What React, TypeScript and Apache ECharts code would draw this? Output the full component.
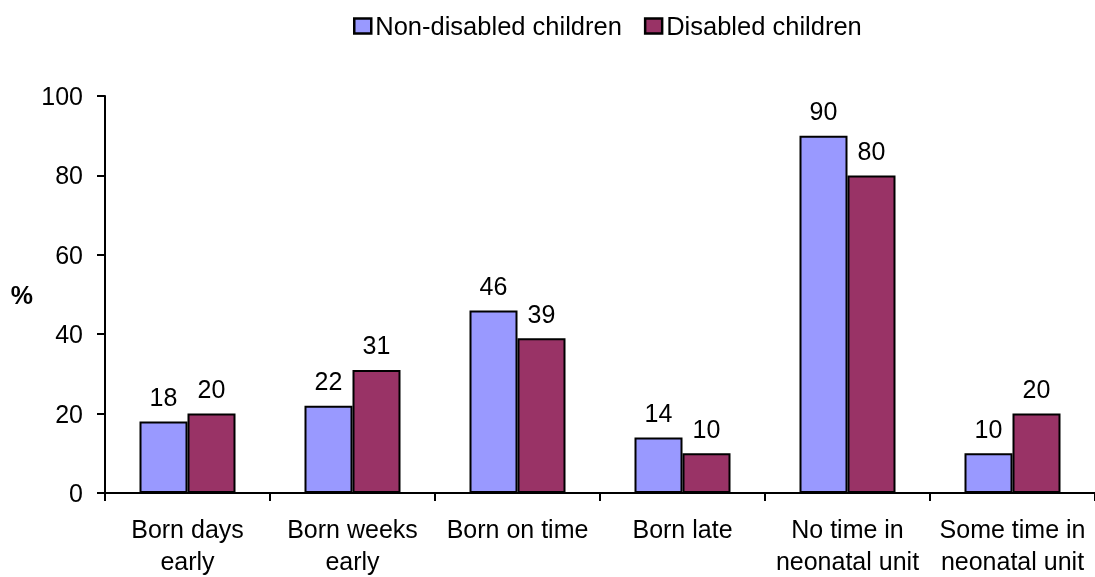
import React, { useEffect, useRef } from "react";
import * as echarts from "echarts";

const categories = [
  "Born days\nearly",
  "Born weeks\nearly",
  "Born on time",
  "Born late",
  "No time in\nneonatal unit",
  "Some time in\nneonatal unit",
];
const nonDisabled = [18, 22, 46, 14, 90, 10];
const disabled = [20, 31, 39, 10, 80, 20];
const yTicks = { min: 0, max: 100, interval: 20 };

const FONT = "Liberation Sans, Arial, sans-serif";
const FS = 25;

export default function App() {
  const ref = useRef<HTMLDivElement>(null);

  useEffect(() => {
    if (!ref.current) return;
    const chart = echarts.init(ref.current, null, { renderer: "svg" });
    const label = {
      show: true,
      position: "top" as const,
      distance: 12,
      color: "#000",
      fontSize: FS,
      fontFamily: FONT,
    };
    chart.setOption({
      animation: false,
      textStyle: { fontFamily: FONT },
      legend: {
        top: 8,
        left: 348,
        icon: "rect",
        itemWidth: 17,
        itemHeight: 15,
        itemGap: 22,
        textStyle: { fontSize: 25.5, color: "#000", fontFamily: FONT, padding: [0, 0, 0, -1] },
        data: [
          { name: "Non-disabled children", itemStyle: { borderColor: "#000", borderWidth: 2.5 } },
          { name: "Disabled children", itemStyle: { borderColor: "#000", borderWidth: 2.5 } },
        ],
      },
      grid: { left: 105, width: 996, top: 96, bottom: 84, containLabel: false },
      xAxis: {
        type: "category",
        data: categories,
        axisLine: { lineStyle: { color: "#000", width: 2 } },
        axisTick: { show: true, length: 8, lineStyle: { color: "#000", width: 2 } },
        axisLabel: { color: "#000", fontSize: FS, lineHeight: 32, margin: 20, interval: 0, fontFamily: FONT },
      },
      yAxis: {
        type: "value",
        min: yTicks.min,
        max: yTicks.max,
        interval: yTicks.interval,
        name: "%",
        nameLocation: "middle",
        nameRotate: 0,
        nameGap: 72,
        nameTextStyle: { fontSize: FS, fontWeight: "bold", color: "#000", fontFamily: FONT, padding: [0, 0, 6, 0] },
        splitLine: { show: false },
        axisLine: { show: true, lineStyle: { color: "#000", width: 2 } },
        axisTick: { show: true, length: 8, lineStyle: { color: "#000", width: 2 } },
        axisLabel: { color: "#000", fontSize: FS, margin: 22, fontFamily: FONT },
      },
      series: [
        {
          name: "Non-disabled children",
          type: "bar",
          data: nonDisabled,
          barWidth: 48,
          barGap: "0%",
          itemStyle: { color: "#9999FF", borderColor: "#000", borderWidth: 2 },
          label,
        },
        {
          name: "Disabled children",
          type: "bar",
          data: disabled,
          barWidth: 48,
          barGap: "0%",
          itemStyle: { color: "#993366", borderColor: "#000", borderWidth: 2 },
          label,
        },
      ],
    });
    return () => chart.dispose();
  }, []);

  return (
    <div
      ref={ref}
      style={{ position: "fixed", left: 0, top: 0, width: 1095, height: 577 }}
    />
  );
}
